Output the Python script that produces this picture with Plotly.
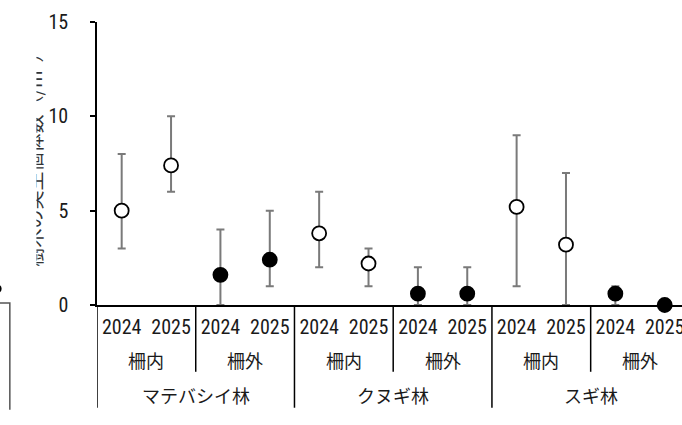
import plotly.graph_objects as go

# Category levels (outer → inner)
forests = ["マテバシイ林", "クヌギ林", "スギ林"]
fences = ["柵内", "柵外"]
years = ["2024", "2025"]

# Seedling density per plot (mean with lower/upper range)
mean = [5.0, 7.4, 1.6, 2.4, 3.8, 2.2, 0.6, 0.6, 5.2, 3.2, 0.6, 0.0]
upper = [8.0, 10.0, 4.0, 5.0, 6.0, 3.0, 2.0, 2.0, 9.0, 7.0, 1.0, 0.0]
lower = [3.0, 6.0, 0.0, 1.0, 2.0, 1.0, 0.0, 0.0, 1.0, 0.0, 0.0, 0.0]

y_ticks = [0, 5, 10, 15]
y_title = "樹木の実生個体数（/m²）"

NUM_FONT = "Roboto Condensed, DejaVu Sans Condensed, Roboto, sans-serif"
JP_FONT = "'Noto Sans CJK JP', sans-serif"
TEXT_COLOR = "#1a1a1a"

n_f, n_g, n_y = len(forests), len(fences), len(years)
xs = list(range(n_f * n_g * n_y))
tick_text = [years[i % n_y] for i in xs]
fence_of = [fences[(i // n_y) % n_g] for i in xs]
fill = ["white" if f == fences[0] else "black" for f in fence_of]

fig = go.Figure(
    go.Scatter(
        x=xs,
        y=mean,
        mode="markers",
        cliponaxis=False,
        marker=dict(size=14, color=fill, line=dict(color="black", width=1.8)),
        error_y=dict(
            type="data",
            symmetric=False,
            array=[u - m for u, m in zip(upper, mean)],
            arrayminus=[m - l for m, l in zip(mean, lower)],
            color="#7a7a7a",
            thickness=2,
            width=4,
        ),
        showlegend=False,
    )
)

# Hierarchical category labels and separators below the x axis
Y_FENCE, Y_FOREST = -0.194, -0.318
Y_SHORT, Y_LONG = -0.236, -0.363
annotations = []
shapes = []
line_style = dict(color="black", width=1.5)
jp_font = dict(family=JP_FONT, size=18, color=TEXT_COLOR)

for fi, forest in enumerate(forests):
    start = fi * n_g * n_y
    end = start + n_g * n_y - 1
    annotations.append(dict(
        x=(start + end) / 2, y=Y_FOREST, xref="x", yref="paper",
        xanchor="center", yanchor="middle",
        text=forest, showarrow=False, font=jp_font,
    ))
    shapes.append(dict(type="line", xref="x", yref="paper",
                       x0=start - 0.5, x1=start - 0.5, y0=0, y1=Y_LONG, line=line_style))
    for gi, fence in enumerate(fences):
        g0 = start + gi * n_y
        g1 = g0 + n_y - 1
        annotations.append(dict(
            x=(g0 + g1) / 2, y=Y_FENCE, xref="x", yref="paper",
            xanchor="center", yanchor="middle",
            text=fence, showarrow=False, font=jp_font,
        ))
        if gi > 0:
            shapes.append(dict(type="line", xref="x", yref="paper",
                               x0=g0 - 0.5, x1=g0 - 0.5, y0=0, y1=Y_SHORT, line=line_style))

# Y axis title (narrow box, partially clipped)
annotations.append(dict(
    x=-0.095, y=0.53, xref="paper", yref="paper",
    xanchor="center", yanchor="middle",
    text=y_title, textangle=-90, showarrow=False,
    font=dict(family=JP_FONT, size=19, color="#333"),
    height=11, valign="bottom",
))

# Edge of the neighbouring panel on the far left
shapes.append(dict(type="path", xref="paper", yref="paper",
                   path="M -0.175 0.007 L -0.149 0.007 L -0.149 -0.37",
                   line=dict(color="#555", width=1.5)))
shapes.append(dict(type="circle", xref="paper", yref="paper",
                   x0=-0.182, x1=-0.163, y0=0.04, y1=0.075,
                   fillcolor="black", line=dict(color="black", width=0)))

fig.update_layout(
    width=682,
    height=425,
    margin=dict(l=97, r=0, t=22, b=120, pad=0, autoexpand=False),
    paper_bgcolor="white",
    plot_bgcolor="white",
    font=dict(family=NUM_FONT, size=19, color=TEXT_COLOR),
    annotations=annotations,
    shapes=shapes,
    xaxis=dict(
        range=[-0.5, 11.35],
        tickvals=xs,
        ticktext=tick_text,
        ticks="",
        ticklabeloverflow="allow",
        automargin=False,
        showline=True,
        linecolor="black",
        linewidth=1.5,
        showgrid=False,
        zeroline=False,
        tickfont=dict(family=NUM_FONT, size=20, color=TEXT_COLOR),
        ticklabelstandoff=3,
    ),
    yaxis=dict(
        range=[0, 15],
        tickvals=y_ticks,
        ticks="outside",
        ticklen=5,
        tickwidth=1.5,
        tickcolor="black",
        automargin=False,
        showline=True,
        linecolor="black",
        linewidth=1.5,
        showgrid=False,
        zeroline=False,
        tickfont=dict(family=NUM_FONT, size=20, color=TEXT_COLOR),
        ticklabelstandoff=18,
    ),
)

fig.write_html("out.html")
